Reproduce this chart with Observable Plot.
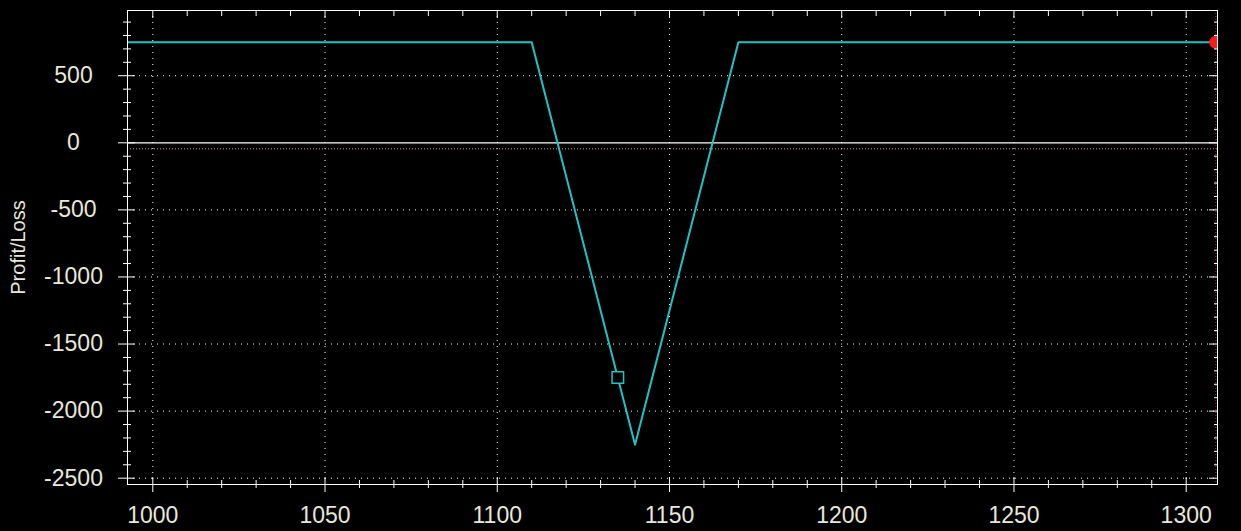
<!DOCTYPE html>
<html><head><meta charset="utf-8">
<script src="https://cdn.jsdelivr.net/npm/d3@7"></script>
<script src="https://cdn.jsdelivr.net/npm/@observablehq/plot@0.6"></script>
<style>html,body{margin:0;padding:0;background:#000;} #chart svg{display:block}</style>
</head><body><div id="chart"></div>
<script>
// Data
const priceKnots = [990, 1110, 1140, 1170, 1310];
const plValues = [750, 750, -2250, 750, 750];
const markerPrice = [1135];
const markerPL = [-1750];
const currentPrice = [1308.6];
const currentPL = [750];
const offsetLevel = [-45];
const zeroLevel = [0];
// Tick labels / positions
const xMajorTicks = [1000, 1050, 1100, 1150, 1200, 1250, 1300];
const xMinorTicks = d3.range(1000, 1310, 10).filter(v => v % 50 !== 0);
const yMajorTicks = [500, 0, -500, -1000, -1500, -2000, -2500];
const yMinorTicks = d3.range(-2500, 1000, 100).filter(v => v % 500 !== 0);
const yGridValues = [500, -500, -1000, -1500, -2000, -2500];
const yLabel = "Profit/Loss";

const curve = priceKnots.map((x, i) => ({x, y: plValues[i]}));
const marker = markerPrice.map((x, i) => ({x, y: markerPL[i]}));
const current = currentPrice.map((x, i) => ({x, y: currentPL[i]}));

const textColor = "#e8e8dc";
const cyan = "#22c2c4";
const fmt = d => String(d);

const chart = Plot.plot({
  width: 1241,
  height: 531,
  marginLeft: 127,
  marginRight: 24,
  marginTop: 10,
  marginBottom: 47,
  x: {domain: [992.66, 1309.09]},
  y: {domain: [-2547, 986.2]},
  style: {background: "#000", color: "#fff", fontFamily: "'Liberation Sans', Arial, sans-serif", overflow: "visible"},
  marks: [
    Plot.gridX(xMajorTicks, {stroke: "#fff", strokeOpacity: 1, strokeDasharray: "1,5"}),
    Plot.gridY(yGridValues, {stroke: "#fff", strokeOpacity: 1, strokeDasharray: "1,5"}),
    Plot.ruleY(zeroLevel, {stroke: "#fff", strokeWidth: 1.2}),
    Plot.ruleY(offsetLevel, {stroke: "#d9a764", strokeDasharray: "1,2"}),
    Plot.ruleX(currentPrice, {stroke: "#b03030", strokeDasharray: "1,2"}),
    Plot.line(curve, {x: "x", y: "y", stroke: cyan, strokeWidth: 2, clip: true}),
    Plot.dot(marker, {x: "x", y: "y", symbol: "square", r: 6.5, stroke: cyan, strokeWidth: 1.5, fill: "#000"}),
    Plot.dot(current, {x: "x", y: "y", r: 6.5, fill: "#ff1a1a", stroke: "none", clip: true}),
    Plot.frame({stroke: "#fff"}),
    // left ticks
    Plot.axisY(yMajorTicks, {anchor: "left", tickSize: 17, insetLeft: 8, fill: "none", stroke: "#fff", label: null}),
    Plot.axisY(yMinorTicks, {anchor: "left", tickSize: 8, insetLeft: 4, fill: "none", stroke: "#fff", label: null}),
    // right ticks
    Plot.axisY(yMajorTicks, {anchor: "right", tickSize: 9, insetRight: 9, fill: "none", stroke: "#fff", label: null}),
    Plot.axisY(yMinorTicks, {anchor: "right", tickSize: 4, insetRight: 4, fill: "none", stroke: "#fff", label: null}),
    // bottom ticks
    Plot.axisX(xMajorTicks, {anchor: "bottom", tickSize: 15, insetBottom: 7, fill: "none", stroke: "#fff", label: null}),
    Plot.axisX(xMinorTicks, {anchor: "bottom", tickSize: 8, insetBottom: 4, fill: "none", stroke: "#fff", label: null}),
    // top ticks
    Plot.axisX(xMajorTicks, {anchor: "top", tickSize: 7, insetTop: 7, fill: "none", stroke: "#fff", label: null}),
    Plot.axisX(xMinorTicks, {anchor: "top", tickSize: 5, insetTop: 5, fill: "none", stroke: "#fff", label: null}),
    // labels
    Plot.axisY(yMajorTicks, {anchor: "left", tickSize: 0, tickPadding: 54, textAnchor: "middle", tickFormat: fmt, fill: textColor, stroke: "none", fontSize: 23, label: null}),
    Plot.axisX(xMajorTicks, {anchor: "bottom", tickSize: 0, tickPadding: 22, tickFormat: fmt, fill: textColor, stroke: "none", fontSize: 23, label: null}),
    Plot.text([yLabel], {frameAnchor: "left", dx: -109, rotate: -90, fill: textColor, fontSize: 20, textAnchor: "middle"})
  ]
});
document.getElementById("chart").appendChild(chart);
</script>
</body></html>
